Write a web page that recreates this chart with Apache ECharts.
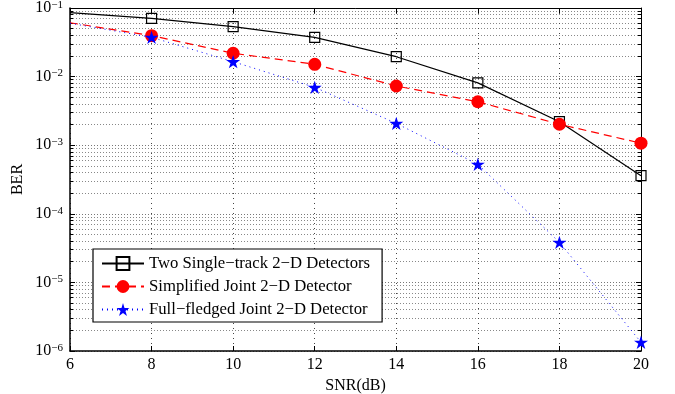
<!DOCTYPE html>
<html>
<head>
<meta charset="utf-8">
<script src="https://cdn.jsdelivr.net/npm/echarts@6/dist/echarts.min.js"></script>
<style>
  html, body { margin: 0; padding: 0; background: #fff; }
  #chart { width: 675px; height: 394px; }
</style>
</head>
<body>
<div id="chart"></div>
<script>
// SNR (dB) points
const snr = [6, 8, 10, 12, 14, 16, 18, 20];
// BER curves
const twoSingle = [0.0855, 0.0708, 0.0534, 0.0374, 0.0195, 0.0081, 0.0022, 0.00036];
const simplified = [0.061, 0.0395, 0.0219, 0.0151, 0.0073, 0.0043, 0.00202, 0.00107];
const fullFledged = [0.06, 0.0374, 0.0165, 0.00698, 0.00208, 0.000527, 0.0000384, 0.00000134];
const seriesNames = ["Two Single\u2212track 2\u2212D Detectors", "Simplified Joint 2\u2212D Detector", "Full\u2212fledged Joint 2\u2212D Detector"];
const yMin = 1e-6;
const yMax = 1e-1;
const minorSteps = [2, 3, 4, 5, 6, 7, 8, 9];

const FONT = "Liberation Serif";
const FS = 16;
const STAR = "path://M100 0 L122.45 69.1 L195.1 69.1 L136.33 111.8 L158.8 180.9 L100 138.2 L41.2 180.9 L63.67 111.8 L4.9 69.1 L77.55 69.1 Z";

function toPoints(vals) {
  return vals.map(function (v, i) {
    // first point sits on the left border, MATLAB shows no marker there
    if (i === 0) return { value: [snr[i], v], symbol: "none" };
    return [snr[i], v];
  });
}

const yAxes = [
  {
    type: "log",
    logBase: 10,
    min: yMin,
    max: yMax,
    name: "BER",
    nameLocation: "middle",
    nameRotate: 90,
    nameGap: 44,
    nameMoveOverlap: false,
    nameTextStyle: { fontFamily: FONT, fontSize: FS, color: "#000" },
    axisLine: { show: true, lineStyle: { color: "#000", width: 1.5 } },
    axisTick: { inside: true, length: 5, lineStyle: { color: "#000" } },
    axisLabel: {
      margin: 7,
      formatter: function (v) {
        const e = Math.round(Math.log10(v));
        return "{b|10}{s|" + (e < 0 ? "\u2212" + (-e) : e) + "}";
      },
      rich: {
        b: { fontFamily: FONT, fontSize: FS, color: "#000" },
        s: { fontFamily: FONT, fontSize: 11, color: "#000", padding: [0, 0, 6, 0] }
      }
    },
    splitLine: { show: true, lineStyle: { type: [1, 2], color: "#777", width: 1 } }
  },
  {
    type: "log",
    logBase: 10,
    min: yMin,
    max: yMax,
    position: "right",
    axisLine: { show: true, lineStyle: { color: "#000", width: 1 } },
    axisTick: { inside: true, length: 5, lineStyle: { color: "#000" } },
    axisLabel: { show: false },
    splitLine: { show: false }
  }
];
// minor log grid (2..9 x 10^k): hidden log axes whose range is divided by m,
// so their decade ticks land on m x 10^k of the main axis
minorSteps.forEach(function (m) {
  ["left", "right"].forEach(function (pos) {
    yAxes.push({
      type: "log",
      logBase: 10,
      min: yMin / m,
      max: yMax / m,
      position: pos,
      axisLine: { show: false },
      axisTick: { show: true, inside: true, length: 3, lineStyle: { color: "#000" } },
      axisLabel: { show: false },
      splitLine: { show: pos === "left", lineStyle: { type: [1, 2], color: "#888", width: 1 } }
    });
  });
});

const el = document.getElementById("chart");
const chart = echarts.init(el);
chart.setOption({
  animation: false,
  backgroundColor: "#fff",
  textStyle: { fontFamily: FONT, color: "#000" },
  grid: { left: 70, right: 34, top: 8, bottom: 43, outerBoundsMode: "none" },
  legend: {
    orient: "vertical",
    left: 93,
    top: 249,
    data: seriesNames,
    itemWidth: 42,
    itemHeight: 16,
    itemGap: 6,
    padding: [6, 12, 4, 8],
    backgroundColor: "#fff",
    borderColor: "#000",
    borderWidth: 1.2,
    borderRadius: 0,
    textStyle: { fontFamily: FONT, fontSize: 16.7, color: "#000" }
  },
  xAxis: [
    {
      type: "value",
      min: 6,
      max: 20,
      interval: 2,
      name: "SNR(dB)",
      nameLocation: "middle",
      nameGap: 26,
      nameTextStyle: { fontFamily: FONT, fontSize: FS, color: "#000" },
      axisLine: { lineStyle: { color: "#000", width: 1.5 } },
      axisTick: { inside: true, length: 5, lineStyle: { color: "#000" } },
      axisLabel: { fontFamily: FONT, fontSize: FS, color: "#000", margin: 6 },
      splitLine: { show: true, lineStyle: { type: [1, 4], color: "#444", width: 1 } }
    },
    {
      type: "value",
      position: "top",
      min: 6,
      max: 20,
      interval: 2,
      axisLine: { lineStyle: { color: "#000", width: 1 } },
      axisTick: { inside: true, length: 5, lineStyle: { color: "#000" } },
      axisLabel: { show: false },
      splitLine: { show: false }
    }
  ],
  yAxis: yAxes,
  series: [
    {
      name: seriesNames[0],
      type: "line",
      data: toPoints(twoSingle),
      symbol: "rect",
      symbolSize: 10,
      lineStyle: { color: "#000", width: 1.2, type: "solid" },
      itemStyle: { color: "rgba(255,255,255,0)", borderColor: "#000", borderWidth: 1.2 }
    },
    {
      name: seriesNames[1],
      type: "line",
      data: toPoints(simplified),
      symbol: "circle",
      symbolSize: 13,
      lineStyle: { color: "#ff0000", width: 1.2, type: [8, 5] },
      itemStyle: { color: "#ff0000", borderWidth: 0 }
    },
    {
      name: seriesNames[2],
      type: "line",
      data: toPoints(fullFledged),
      symbol: STAR,
      symbolSize: 14,
      symbolKeepAspect: true,
      lineStyle: { color: "#0000ff", width: 1, type: [1, 4] },
      itemStyle: { color: "#0000ff", borderWidth: 0 }
    }
  ]
});
</script>
</body>
</html>
